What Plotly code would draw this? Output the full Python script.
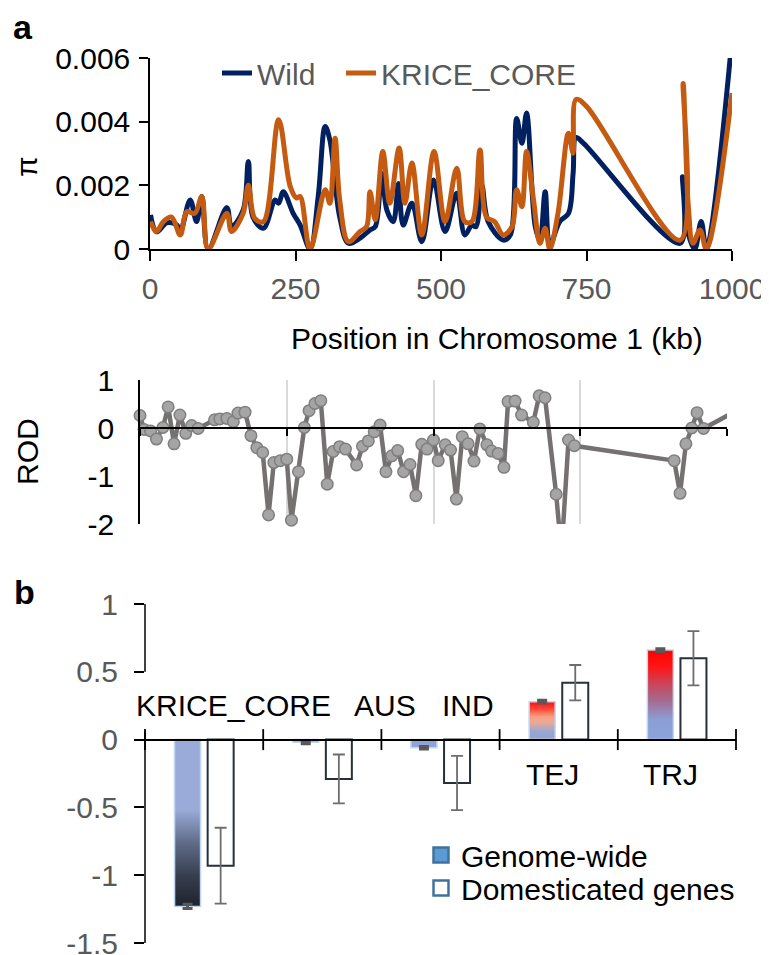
import plotly.graph_objects as go
import numpy as np

W, H = 769, 955          # browser window
PAGE_MARGIN = 8          # default body margin of the html page
FW, FH = W - PAGE_MARGIN, H - PAGE_MARGIN
FONT = "Liberation Sans, Arial, Helvetica, sans-serif"

# ---------------- data: panel a (nucleotide diversity) ----------------
wild_pos = [1, 11, 29, 46, 52, 69, 80, 89, 100, 132, 140, 160, 169, 177, 195, 215, 221, 229,
            246, 258, 275, 289, 301, 309, 326, 341, 361, 378, 387, 398, 407, 418, 427, 435,
            450, 467, 487, 507, 527, 541, 553, 560, 570, 581, 607, 619, 630, 639, 647, 662,
            670, 679, 687, 704, 719, 727, 732, 745, 911, 915, 922, 936, 947, 956, 1000]
wild_pi = [0.00107, 0.00054, 0.00082, 0.00075, 0.00055, 0.00154, 0.00086, 0.00165, 0.0,
           0.0013, 0.0007, 0.00122, 0.00275, 0.001, 0.00065, 0.00154, 0.00144, 0.0018,
           0.00112, 0.00075, 0.0, 0.00165, 0.00385, 0.00343, 0.001, 0.00018, 0.00034,
           0.0006, 0.0007, 0.00238, 0.00122, 0.00086, 0.00206, 0.00075, 0.00144, 0.00023,
           0.00217, 0.00055, 0.00175, 0.00044, 0.00075, 0.0007, 0.002, 0.00086, 0.00028,
           0.00044, 0.0041, 0.00332, 0.00427, 0.0007, 0.00028, 0.0018, 0.00012, 0.00086,
           0.00112, 0.00238, 0.0035, 0.00332, 0.00018, 0.00227, 0.0007, 0.0, 0.00086, 0.0,
           0.0066]

core_pos = [1, 11, 23, 37, 52, 63, 77, 89, 100, 132, 140, 160, 169, 180, 195, 221, 241, 252,
            258, 275, 301, 309, 318, 326, 341, 361, 372, 378, 387, 400, 412, 428, 438, 450,
            467, 488, 507, 527, 541, 553, 567, 578, 592, 607, 622, 630, 639, 647, 659, 670,
            679, 687, 701, 719, 727, 732, 750, 911, 916, 925, 933, 945, 956, 1000]
core_pi = [0.00086, 0.00055, 0.00086, 0.001, 0.00044, 0.00117, 0.00112, 0.00165, 0.0,
           0.00112, 0.00055, 0.00112, 0.002, 0.00096, 0.00086, 0.00406, 0.00196, 0.0016,
           0.00165, 0.0, 0.00186, 0.00144, 0.00348, 0.00154, 0.00023, 0.00055, 0.0007,
           0.0018, 0.00092, 0.00306, 0.00144, 0.00317, 0.00144, 0.0027, 0.00044, 0.00306,
           0.00086, 0.00254, 0.00086, 0.00086, 0.00311, 0.001, 0.00086, 0.00044, 0.0007,
           0.00186, 0.00133, 0.00306, 0.00154, 0.00018, 0.00065, 0.0, 0.00112, 0.00364,
           0.00301, 0.0047, 0.00448, 0.00028, 0.0052, 0.00133, 0.00018, 0.0006, 0.0, 0.0049]

pi_ticks = [0, 0.002, 0.004, 0.006]
pi_labels = ["0", "0.002", "0.004", "0.006"]
pos_ticks = [0, 250, 500, 750, 1000]

# ---------------- data: panel a (ROD) ----------------
rod_pos = [0, 7, 18, 28, 39, 48, 58, 68, 78, 88, 99, 127, 136, 148, 159, 167, 179, 189, 199,
           209, 219, 228, 239, 250, 258, 270, 280, 288, 298, 308, 319, 329, 340, 350, 369,
           379, 389, 399, 409, 419, 429, 439, 449, 460, 470, 480, 489, 500, 508, 520, 529,
           539, 549, 559, 569, 579, 591, 599, 610, 620, 627, 639, 650, 670, 680, 690, 709,
           718, 730, 740, 910, 920, 930, 940, 949, 960, 1015]
rod_val = [0.26, -0.03, -0.06, -0.23, 0.01, 0.44, -0.33, 0.27, -0.11, 0.05, -0.01, 0.17,
           0.19, 0.2, 0.13, 0.31, 0.33, -0.16, -0.41, -0.51, -1.81, -0.72, -0.68, -0.65,
           -1.92, -0.91, 0.01, 0.36, 0.51, 0.57, -1.17, -0.49, -0.39, -0.44, -0.77, -0.38,
           -0.27, -0.08, 0.06, -0.91, -0.58, -0.47, -0.91, -0.76, -1.41, -0.34, -0.44,
           -0.25, -0.68, -0.35, -0.46, -1.48, -0.18, -0.33, -0.69, -0.02, -0.35, -0.48,
           -0.53, -0.82, 0.55, 0.56, 0.27, 0.12, 0.67, 0.63, -1.38, -2.6, -0.25, -0.37,
           -0.68, -1.36, -0.33, 0.0, 0.32, -0.01, 0.35]
rod_ticks = [-2, -1, 0, 1]
rod_labels = ["-2", "-1", "0", "1"]

# ---------------- data: panel b ----------------
groups = ["KRICE_CORE", "AUS", "IND", "TEJ", "TRJ"]
genome_wide = [-1.23, -0.02, -0.06, 0.28, 0.66]
genome_err = [0.015, 0.01, 0.01, 0.01, 0.01]
domesticated = [-0.93, -0.29, -0.32, 0.42, 0.60]
domesticated_err = [0.28, 0.18, 0.20, 0.13, 0.20]
b_ticks = [-1.5, -1, -0.5, 0, 0.5, 1]
b_labels = ["-1.5", "-1", "-0.5", "0", "0.5", "1"]

# ---------------- layout geometry (window pixels -> figure fractions) ----------------
def px(x):
    return (x - PAGE_MARGIN) / FW

def py(y):
    return 1 - (y - PAGE_MARGIN) / FH

dom_x1, dom_y1 = [px(150), px(732)], [py(249), py(58)]
dom_x2, dom_y2 = [px(140), px(727)], [py(524), py(380)]
dom_x3, dom_y3 = [px(145), px(736)], [py(943), py(604)]
rod_range = [-2, 1]
b_range = [-1.5, 1]
zero2 = dom_y2[0] + (0 - rod_range[0]) / (rod_range[1] - rod_range[0]) * (dom_y2[1] - dom_y2[0])
zero3 = dom_y3[0] + (0 - b_range[0]) / (b_range[1] - b_range[0]) * (dom_y3[1] - dom_y3[0])

fig = go.Figure()

# ---- panel a: pi lines ----
fig.add_trace(go.Scatter(x=wild_pos, y=wild_pi, mode="lines", name="Wild",
                         line=dict(color="#002060", width=5, shape="spline", smoothing=1),
                         xaxis="x", yaxis="y", legend="legend"))
fig.add_trace(go.Scatter(x=core_pos, y=core_pi, mode="lines", name="KRICE_CORE",
                         line=dict(color="#C55A11", width=5, shape="spline", smoothing=1),
                         xaxis="x", yaxis="y", legend="legend2"))

# ---- panel a: ROD ----
rp = np.array(rod_pos, dtype=float)
rv = np.array(rod_val, dtype=float)
fig.add_trace(go.Scatter(x=rp, y=rv, mode="lines", showlegend=False,
                         line=dict(color="#767171", width=4.5),
                         xaxis="x2", yaxis="y2"))
inside = (rv >= rod_range[0]) & (rv <= rod_range[1]) & (rp <= 1000)
fig.add_trace(go.Scatter(x=rp[inside], y=rv[inside], mode="markers", showlegend=False,
                         cliponaxis=False,
                         marker=dict(size=11.5, color="#A5A5A5", line=dict(color="#7F7F7F", width=1.5)),
                         xaxis="x2", yaxis="y2"))

# ---- panel b ----
idx = np.arange(len(groups), dtype=float)
offset, bw = 0.14, 0.22
fig.add_trace(go.Bar(x=idx + offset, y=domesticated, width=bw, showlegend=False,
                     marker=dict(color="white", line=dict(color="#262F3A", width=2)),
                     error_y=dict(type="data", array=domesticated_err, color="#6D6D6D",
                                  thickness=1.8, width=6),
                     xaxis="x3", yaxis="y3"))

scales = [
    [[0, "#1e232c"], [0.18, "#363d4d"], [0.38, "#5f6b88"], [0.58, "#9aabd9"], [1, "#9aabd9"]],
    None,
    None,
    [[0, "#d9a9a0"], [0.06, "#8fa5d8"], [0.2, "#98a6d3"], [0.45, "#e8aa98"], [0.6, "#f7a084"],
     [0.8, "#ff4a3a"], [1, "#ff0a0a"]],
    [[0, "#8aa3d9"], [0.22, "#8c9fd6"], [0.44, "#a56a8e"], [0.66, "#d43c4e"], [0.82, "#ff1414"],
     [1, "#ff0000"]],
]
for i, v in enumerate(genome_wide):
    c = idx[i] - offset
    xs = [c - bw / 2, c + bw / 2, c + bw / 2, c - bw / 2, c - bw / 2]
    ys = [0, 0, v, v, 0]
    kw = dict(x=xs, y=ys, mode="lines", fill="toself", showlegend=False, hoverinfo="skip",
              line=dict(color="#BDD7EE", width=1.5), xaxis="x3", yaxis="y3")
    if scales[i] is None:
        kw["fillcolor"] = "#8FA5D8"
    else:
        kw["fillgradient"] = dict(type="vertical", colorscale=scales[i],
                                  start=min(0, v), stop=max(0, v))
    fig.add_trace(go.Scatter(**kw))

fig.add_trace(go.Scatter(x=idx - offset, y=genome_wide, mode="markers", showlegend=False,
                         marker=dict(size=1, color="rgba(0,0,0,0)"),
                         error_y=dict(type="data", array=genome_err, color="#595959",
                                      thickness=3, width=5),
                         xaxis="x3", yaxis="y3"))

# category boundary tick marks crossing the zero line
bounds = np.arange(len(groups) + 1) - 0.5
fig.add_trace(go.Scatter(x=bounds, y=np.zeros_like(bounds), mode="markers", showlegend=False,
                         cliponaxis=False, hoverinfo="skip",
                         marker=dict(symbol="line-ns", size=15, line=dict(color="black", width=1.8)),
                         xaxis="x3", yaxis="y3"))

# legend entries for panel b
fig.add_trace(go.Scatter(x=[None], y=[None], mode="markers", name="Genome-wide",
                         marker=dict(symbol="square", size=15, color="#5B9BD5",
                                     line=dict(color="#41719C", width=2.5)),
                         xaxis="x3", yaxis="y3", legend="legend3"))
fig.add_trace(go.Scatter(x=[None], y=[None], mode="markers", name="Domesticated genes",
                         marker=dict(symbol="square", size=15, color="white",
                                     line=dict(color="#41719C", width=2.5)),
                         xaxis="x3", yaxis="y3", legend="legend4"))

FS = 30
tickfont_black = dict(family=FONT, size=FS, color="black")
tickfont_gray = dict(family=FONT, size=FS, color="#595959")


def one_legend(x_text, y_mid, color):
    return dict(orientation="v", x=px(x_text - 41), y=py(y_mid), xanchor="left", yanchor="middle",
                xref="container", yref="container",
                font=dict(family=FONT, size=FS, color=color), bgcolor="rgba(0,0,0,0)")


fig.update_layout(
    width=FW, height=FH, margin=dict(l=0, r=0, t=0, b=0, pad=0, autoexpand=False),
    paper_bgcolor="white", plot_bgcolor="white",
    font=dict(family=FONT),
    xaxis=dict(domain=dom_x1, anchor="y", range=[0, 1000], tickvals=pos_ticks,
               ticks="outside", ticklen=10, tickwidth=1.5, tickcolor="black",
               showline=True, linecolor="black", linewidth=1.5, showgrid=False, zeroline=False,
               tickfont=tickfont_gray, ticklabelstandoff=2, automargin=False,
               ticklabeloverflow="allow"),
    yaxis=dict(domain=dom_y1, anchor="x", range=[0, 0.006], tickvals=pi_ticks, ticktext=pi_labels,
               ticks="outside", ticklen=9, tickwidth=1.5, tickcolor="black",
               showline=True, linecolor="black", linewidth=1.5, showgrid=False, zeroline=False,
               tickfont=tickfont_black, ticklabelstandoff=3, automargin=False,
               ticklabeloverflow="allow"),
    xaxis2=dict(domain=dom_x2, anchor="free", position=zero2, range=[0, 1000],
                tickvals=pos_ticks, ticks="outside", ticklen=7, tickwidth=1.5, tickcolor="black",
                showticklabels=False, showline=True, linecolor="black", linewidth=1.5,
                showgrid=True, gridcolor="#D9D9D9", gridwidth=1.5, zeroline=False,
                automargin=False),
    yaxis2=dict(domain=dom_y2, anchor="x2", range=rod_range, tickvals=rod_ticks,
                ticktext=rod_labels, ticks="", showline=True, linecolor="black", linewidth=1.5,
                showgrid=False, zeroline=False, tickfont=tickfont_black, ticklabelstandoff=18,
                automargin=False, ticklabeloverflow="allow"),
    xaxis3=dict(domain=dom_x3, anchor="free", position=zero3, range=[-0.5, 4.5],
                ticks="", showticklabels=False, showline=True, linecolor="black", linewidth=1.5,
                showgrid=False, zeroline=False, automargin=False),
    yaxis3=dict(domain=dom_y3, anchor="x3", range=b_range, tickvals=b_ticks, ticktext=b_labels,
                ticks="outside", ticklen=10, tickwidth=1.5, tickcolor="black",
                showline=False, showgrid=False, zeroline=False,
                tickfont=tickfont_gray, ticklabelstandoff=10, automargin=False,
                ticklabeloverflow="allow"),
    legend=one_legend(258, 73, "#595959"),
    legend2=one_legend(382, 73, "#595959"),
    legend3=one_legend(462, 855, "black"),
    legend4=one_legend(462, 888, "black"),
    showlegend=True,
)

# y-axis line of panel b, interrupted behind the category labels
fig.add_shape(type="line", xref="x3 domain", yref="y3", x0=0, x1=0, y0=1, y1=0.5,
              line=dict(color="black", width=1.5))
fig.add_shape(type="line", xref="x3 domain", yref="y3", x0=0, x1=0, y0=0.06, y1=-1.5,
              line=dict(color="black", width=1.5))


def paper_text(text, x, y, size=FS, angle=0, xanchor="center"):
    return dict(text=text, x=px(x), y=py(y), xref="paper", yref="paper", xanchor=xanchor,
                yanchor="middle", textangle=angle, showarrow=False,
                font=dict(family=FONT, size=size, color="black"))


ann = [
    paper_text("<b>a</b>", 11, 27, size=34, xanchor="left"),
    paper_text("<b>b</b>", 12, 592, size=34, xanchor="left"),
    paper_text("π", 26, 167, angle=-90),
    paper_text("Position in Chromosome 1 (kb)", 497, 338),
    paper_text("ROD", 27, 452, angle=-90),
]
label_x = [0.25, 1.53, 2.23, 2.95, 3.95]
label_y = [0.255, 0.255, 0.255, -0.26, -0.26]
for name, lx, ly in zip(groups, label_x, label_y):
    ann.append(dict(text=name, x=lx, y=ly, xref="x3", yref="y3", showarrow=False,
                    xanchor="center", yanchor="middle",
                    font=dict(family=FONT, size=FS, color="black")))
fig.update_layout(annotations=ann)

fig.write_html("out.html")
